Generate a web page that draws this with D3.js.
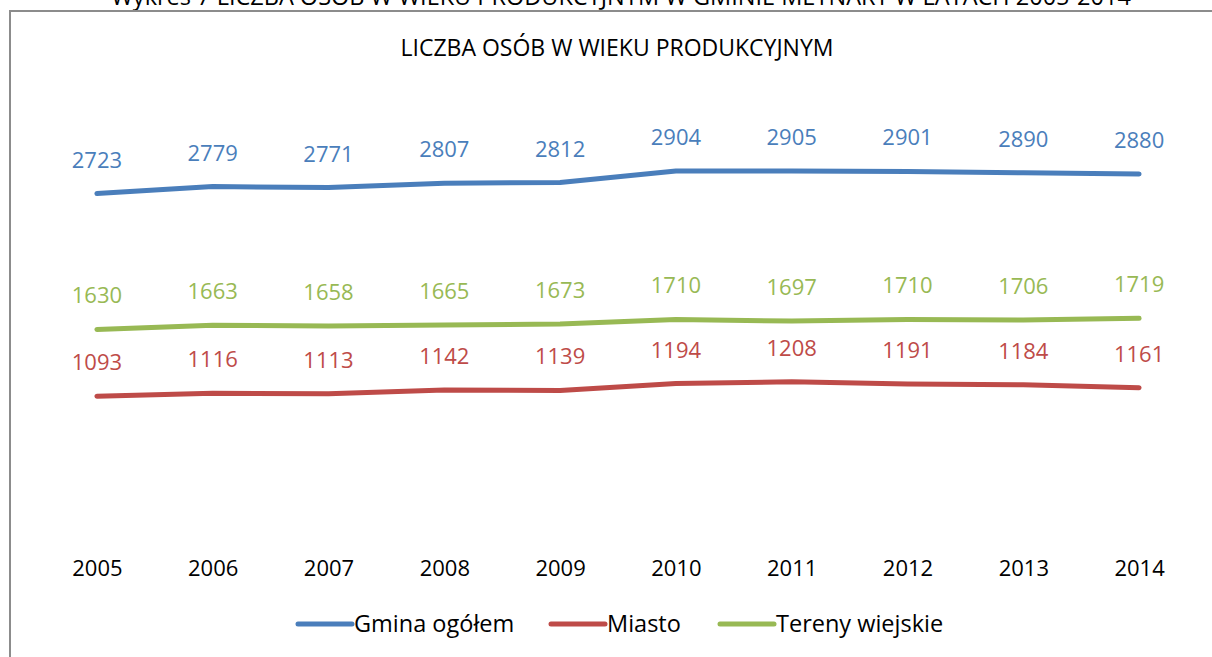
<!DOCTYPE html>
<html>
<head>
<meta charset="utf-8">
<script src="https://cdn.jsdelivr.net/npm/d3@7"></script>
<style>
  body { margin: 0; background: #fff; }
  text { font-family: "Open Sans", "Noto Sans", sans-serif; }
</style>
</head>
<body>
<div id="chart"></div>
<script>
// DATA
const years = ["2005","2006","2007","2008","2009","2010","2011","2012","2013","2014"]
const gmina = [2723, 2779, 2771, 2807, 2812, 2904, 2905, 2901, 2890, 2880]
const miasto = [1093, 1116, 1113, 1142, 1139, 1194, 1208, 1191, 1184, 1161]
const wies = [1630, 1663, 1658, 1665, 1673, 1710, 1697, 1710, 1706, 1719]
const seriesNames = ["Gmina ogółem", "Miasto", "Tereny wiejskie"]
const seriesColors = ["#4a7ebb", "#be4b48", "#98b954"]

const W = 1212, H = 657
const PLOT = { LEFT: 39, RIGHT: 1197, TOP: 97, BOTTOM: 532 }

const svg = d3.select("#chart").append("svg")
  .attr("width", W).attr("height", H)

// caption above the frame (only its lower part shows, as in the scan)
svg.append("text")
  .attr("x", 621).attr("y", 5)
  .attr("text-anchor", "middle")
  .attr("font-size", 23.5)
  .attr("fill", "#000")
  .text("Wykres 7 LICZBA OSÓB W WIEKU PRODUKCYJNYM W GMINIE MEYNARY W LATACH 2005-2014")

// chart frame
svg.append("rect")
  .attr("x", 10).attr("y", 11)
  .attr("width", W + 20).attr("height", H + 20)
  .attr("fill", "none")
  .attr("stroke", "#8c8c8c")
  .attr("stroke-width", 2)

svg.append("text")
  .attr("x", 617).attr("y", 56)
  .attr("text-anchor", "middle")
  .attr("font-size", 23)
  .attr("fill", "#000")
  .text("LICZBA OSÓB W WIEKU PRODUKCYJNYM")

//SCALES
const xScale = d3.scalePoint().domain(years)
  .range([PLOT.LEFT, PLOT.RIGHT]).padding(0.5)
const yScale = d3.scaleLinear().domain([0, 3500])
  .range([PLOT.BOTTOM, PLOT.TOP])

// x axis labels only (axis line hidden)
const gAxisX = svg.append("g")
  .attr("transform", `translate(0, ${PLOT.BOTTOM})`)
  .call(d3.axisBottom(xScale).tickSize(0).tickPadding(28))
gAxisX.select(".domain").remove()
gAxisX.selectAll("text")
  .attr("font-size", 22)
  .attr("font-family", "Open Sans")
  .attr("fill", "#000")

const series = [gmina, miasto, wies]
const line = d3.line()
  .x((d, i) => xScale(years[i]))
  .y(d => yScale(d))

// draw red, green, blue order like the source
const order = [1, 2, 0]
order.forEach(k => {
  svg.append("path")
    .attr("d", line(series[k]))
    .attr("fill", "none")
    .attr("stroke", seriesColors[k])
    .attr("stroke-width", 5)
    .attr("stroke-linecap", "round")
    .attr("stroke-linejoin", "round")

  svg.append("g").selectAll("text").data(series[k]).join("text")
    .attr("x", (d, i) => xScale(years[i]))
    .attr("y", d => yScale(d) - 26)
    .attr("text-anchor", "middle")
    .attr("font-size", 22)
    .attr("fill", seriesColors[k])
    .text(d => d)
})

// LEGEND
const legendX = [298, 551, 720]
const legend = svg.append("g").attr("transform", "translate(0, 624)")
seriesNames.forEach((name, k) => {
  legend.append("line")
    .attr("x1", legendX[k]).attr("x2", legendX[k] + 54)
    .attr("y1", 0).attr("y2", 0)
    .attr("stroke", seriesColors[k])
    .attr("stroke-width", 5)
    .attr("stroke-linecap", "round")
  legend.append("text")
    .attr("x", legendX[k] + 56).attr("y", 8)
    .attr("font-size", 23.5)
    .attr("fill", "#000")
    .text(name)
})
</script>
</body>
</html>
